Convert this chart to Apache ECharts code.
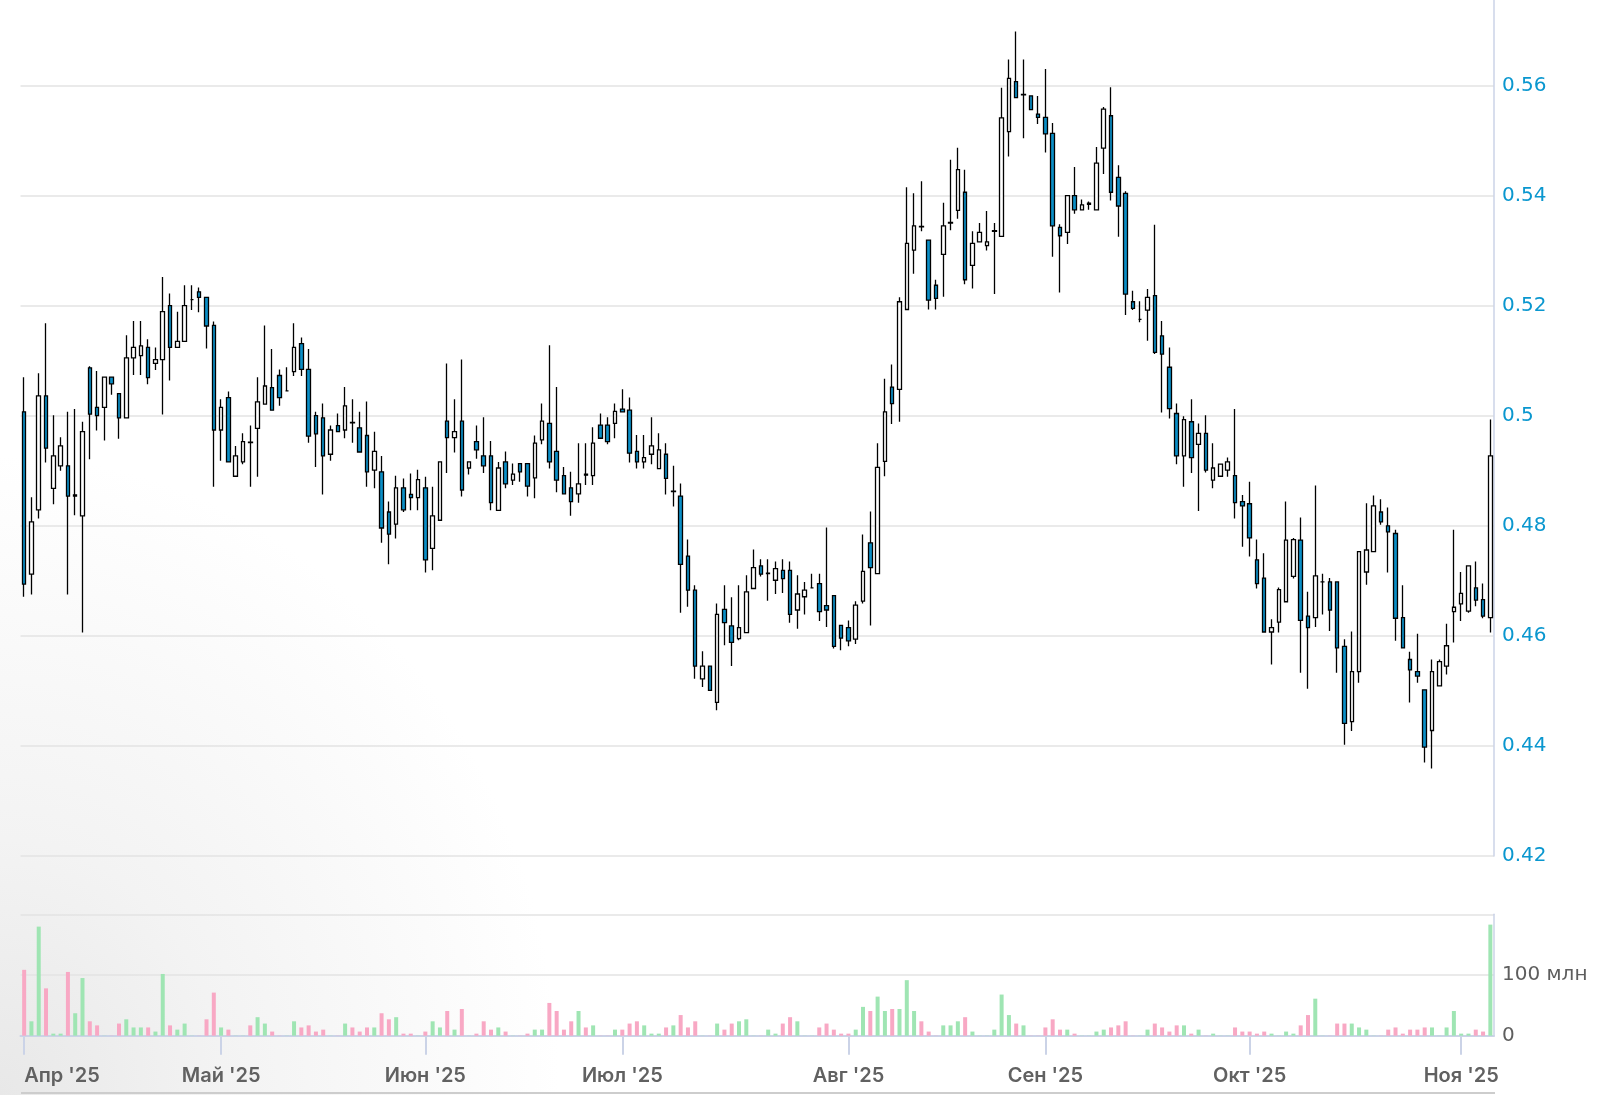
<!DOCTYPE html>
<html>
<head>
<meta charset="utf-8">
<script src="https://cdn.jsdelivr.net/npm/echarts@6/dist/echarts.min.js"></script>
<style>
  html, body { margin: 0; padding: 0; width: 1606px; height: 1095px; overflow: hidden;
    background: radial-gradient(ellipse 560px 640px at 0px 1095px, #e8e8e8 0%, #f3f3f3 40%, #ffffff 100%); }
  #chart { width: 1606px; height: 1095px; }
</style>
</head>
<body>
<div id="chart"></div>
<script>
// ---- Data ----
const monthStarts = [0, 27, 55, 82, 113, 140, 168, 197];
const monthLabels = ["Апр '25", "Май '25", "Июн '25", "Июл '25", "Авг '25", "Сен '25", "Окт '25", "Ноя '25"];
const priceTicks = [0.42, 0.44, 0.46, 0.48, 0.50, 0.52, 0.54, 0.56];
const volumeTicks = [0, 100];

const opens = [
0.5007,0.4712,0.4829,0.5036,0.4868,0.4909,0.4909,0.4854,0.4818,0.5087,
0.5015,0.5015,0.5070,0.5040,0.4996,0.5105,0.5109,0.5124,0.5095,0.5102,
0.5200,0.5124,0.5135,0.5211,0.5225,0.5215,0.5164,0.4974,0.5033,0.4890,
0.4916,0.4952,0.4977,0.5021,0.5051,0.5073,0.5045,0.5080,0.5131,0.5084,
0.5000,0.4996,0.4930,0.4982,0.4974,0.4988,0.4978,0.4964,0.4901,0.4898,
0.4825,0.4803,0.4869,0.4857,0.4851,0.4869,0.4759,0.4810,0.4990,0.4960,
0.4990,0.4905,0.4953,0.4927,0.4927,0.4828,0.4916,0.4883,0.4913,0.4913,
0.4887,0.4956,0.4986,0.4935,0.4891,0.4869,0.4858,0.4894,0.4891,0.4983,
0.4983,0.4986,0.5012,0.5010,0.4935,0.4916,0.4930,0.4904,0.4930,0.4862,
0.4854,0.4745,0.4683,0.4522,0.4545,0.4479,0.4648,0.4618,0.4595,0.4606,
0.4686,0.4727,0.4713,0.4701,0.4719,0.4719,0.4647,0.4671,0.4687,0.4695,
0.4655,0.4673,0.4619,0.4615,0.4594,0.4663,0.4769,0.4713,0.4917,0.5052,
0.5048,0.5193,0.5301,0.5344,0.5319,0.5237,0.5293,0.5350,0.5373,0.5406,
0.5273,0.5316,0.5309,0.5335,0.5326,0.5516,0.5607,0.5583,0.5581,0.5548,
0.5542,0.5513,0.5342,0.5333,0.5400,0.5374,0.5384,0.5374,0.5486,0.5545,
0.5433,0.5404,0.5207,0.5175,0.5192,0.5218,0.5145,0.5088,0.5004,0.4927,
0.4989,0.4948,0.4968,0.4883,0.4890,0.4901,0.4891,0.4844,0.4840,0.4738,
0.4705,0.4607,0.4625,0.4662,0.4708,0.4774,0.4636,0.4633,0.4698,0.4698,
0.4698,0.4581,0.4444,0.4535,0.4716,0.4753,0.4825,0.4800,0.4786,0.4633,
0.4557,0.4535,0.4502,0.4428,0.4509,0.4545,0.4644,0.4658,0.4645,0.4687,
0.4666,0.4633];
const closes = [
0.4694,0.4807,0.5036,0.4941,0.4927,0.4945,0.4854,0.4856,0.4971,0.5003,
0.5000,0.5070,0.5058,0.4996,0.5105,0.5124,0.5127,0.5069,0.5102,0.5189,
0.5124,0.5135,0.5200,0.5211,0.5215,0.5163,0.4974,0.5015,0.4916,0.4927,
0.4953,0.4951,0.5025,0.5054,0.5010,0.5033,0.5045,0.5124,0.5084,0.4963,
0.4967,0.4927,0.4974,0.4971,0.5018,0.4987,0.4934,0.4898,0.4935,0.4796,
0.4785,0.4869,0.4829,0.4851,0.4884,0.4738,0.4818,0.4916,0.4960,0.4971,
0.4865,0.4916,0.4938,0.4909,0.4842,0.4905,0.4876,0.4894,0.4898,0.4872,
0.4950,0.4990,0.4916,0.4883,0.4858,0.4844,0.4876,0.4892,0.4950,0.4959,
0.4953,0.5008,0.5007,0.4932,0.4916,0.4924,0.4945,0.4938,0.4886,0.4863,
0.4730,0.4683,0.4545,0.4545,0.4501,0.4639,0.4624,0.4588,0.4615,0.4680,
0.4724,0.4712,0.4714,0.4722,0.4704,0.4639,0.4676,0.4683,0.4687,0.4644,
0.4647,0.4581,0.4596,0.4591,0.4656,0.4717,0.4724,0.4906,0.5007,0.5022,
0.5207,0.5313,0.5345,0.5343,0.5210,0.5213,0.5345,0.5351,0.5447,0.5247,
0.5313,0.5333,0.5316,0.5336,0.5541,0.5613,0.5578,0.5584,0.5556,0.5542,
0.5512,0.5345,0.5327,0.5400,0.5374,0.5383,0.5386,0.5459,0.5557,0.5406,
0.5381,0.5221,0.5195,0.5175,0.5215,0.5115,0.5112,0.5013,0.4927,0.4993,
0.4924,0.4968,0.4901,0.4905,0.4912,0.4916,0.4842,0.4836,0.4778,0.4695,
0.4607,0.4615,0.4684,0.4774,0.4775,0.4628,0.4615,0.4709,0.4698,0.4647,
0.4578,0.4441,0.4535,0.4753,0.4756,0.4836,0.4807,0.4789,0.4632,0.4578,
0.4538,0.4527,0.4398,0.4535,0.4553,0.4582,0.4652,0.4677,0.4727,0.4665,
0.4636,0.4927];
const lows = [
0.4671,0.4675,0.4813,0.4915,0.4839,0.4900,0.4675,0.4819,0.4606,0.4921,
0.4973,0.4955,0.5038,0.4958,0.4996,0.5074,0.5074,0.5057,0.5083,0.5002,
0.5064,0.5124,0.5135,0.5192,0.5188,0.5122,0.4871,0.4918,0.4916,0.4890,
0.4912,0.4871,0.4889,0.5021,0.5010,0.5018,0.5045,0.5072,0.5072,0.4951,
0.4907,0.4857,0.4918,0.4971,0.4959,0.4951,0.4934,0.4871,0.4868,0.4769,
0.4730,0.4777,0.4825,0.4828,0.4828,0.4715,0.4719,0.4810,0.4896,0.4933,
0.4853,0.4893,0.4922,0.4896,0.4828,0.4828,0.4868,0.4874,0.4880,0.4853,
0.4850,0.4948,0.4904,0.4861,0.4858,0.4818,0.4842,0.4874,0.4874,0.4959,
0.4948,0.4959,0.5007,0.4915,0.4904,0.4904,0.4912,0.4904,0.4857,0.4835,
0.4642,0.4653,0.4522,0.4507,0.4501,0.4465,0.4583,0.4545,0.4592,0.4606,
0.4686,0.4708,0.4664,0.4676,0.4678,0.4624,0.4613,0.4639,0.4687,0.4627,
0.4616,0.4577,0.4574,0.4581,0.4585,0.4659,0.4619,0.4713,0.4890,0.4985,
0.4989,0.5193,0.5258,0.5335,0.5193,0.5193,0.5216,0.5337,0.5358,0.5239,
0.5231,0.5316,0.5300,0.5221,0.5326,0.5471,0.5578,0.5504,0.5556,0.5530,
0.5478,0.5289,0.5224,0.5312,0.5367,0.5374,0.5374,0.5374,0.5439,0.5391,
0.5325,0.5183,0.5192,0.5170,0.5136,0.5112,0.5006,0.4995,0.4912,0.4871,
0.4896,0.4827,0.4897,0.4868,0.4890,0.4889,0.4813,0.4762,0.4744,0.4686,
0.4607,0.4548,0.4606,0.4662,0.4704,0.4533,0.4504,0.4616,0.4639,0.4609,
0.4533,0.4402,0.4427,0.4515,0.4693,0.4753,0.4802,0.4715,0.4591,0.4578,
0.4479,0.4515,0.4370,0.4359,0.4509,0.4530,0.4588,0.4627,0.4642,0.4654,
0.4632,0.4606];
const highs = [
0.5070,0.4852,0.5077,0.5168,0.5001,0.4961,0.5007,0.5012,0.4989,0.5090,
0.5081,0.5070,0.5070,0.5040,0.5146,0.5172,0.5172,0.5139,0.5124,0.5252,
0.5222,0.5189,0.5237,0.5237,0.5233,0.5215,0.5171,0.5030,0.5044,0.4945,
0.4968,0.4982,0.5070,0.5164,0.5121,0.5084,0.5088,0.5168,0.5142,0.5121,
0.5007,0.5022,0.4982,0.5004,0.5052,0.5030,0.5007,0.5026,0.4971,0.4927,
0.4844,0.4891,0.4886,0.4895,0.4902,0.4889,0.4871,0.4916,0.5095,0.5030,
0.5102,0.4916,0.4982,0.4997,0.4954,0.4916,0.4935,0.4913,0.4913,0.4913,
0.4964,0.5022,0.5128,0.5052,0.4907,0.4898,0.4950,0.4950,0.4979,0.5004,
0.4997,0.5022,0.5048,0.5033,0.4965,0.4965,0.4997,0.4968,0.4950,0.4909,
0.4877,0.4775,0.4692,0.4572,0.4545,0.4659,0.4692,0.4670,0.4692,0.4710,
0.4757,0.4739,0.4739,0.4735,0.4739,0.4735,0.4710,0.4698,0.4713,0.4713,
0.4797,0.4673,0.4619,0.4628,0.4663,0.4784,0.4826,0.4950,0.5067,0.5093,
0.5215,0.5415,0.5404,0.5426,0.5319,0.5247,0.5387,0.5465,0.5487,0.5447,
0.5335,0.5350,0.5372,0.5350,0.5596,0.5647,0.5698,0.5647,0.5581,0.5581,
0.5630,0.5532,0.5348,0.5400,0.5452,0.5393,0.5389,0.5488,0.5561,0.5597,
0.5455,0.5408,0.5227,0.5208,0.5230,0.5347,0.5172,0.5124,0.5022,0.4999,
0.5030,0.4986,0.5001,0.4950,0.4912,0.4924,0.5012,0.4856,0.4880,0.4775,
0.4750,0.4630,0.4688,0.4844,0.4778,0.4815,0.4680,0.4873,0.4713,0.4705,
0.4698,0.4594,0.4608,0.4753,0.4841,0.4855,0.4848,0.4833,0.4793,0.4692,
0.4571,0.4604,0.4502,0.4557,0.4557,0.4622,0.4793,0.4716,0.4727,0.4735,
0.4695,0.4993];
// volume, millions
const volumes = [
108.5,23.7,179.7,78,3.4,3.4,105,37,95,23.7,
17,0.3,0.3,20,27,13.6,13.6,13.6,6.8,101.7,
17,10,20,0.3,0.3,27,71,13.6,10,0.3,
0.3,17,30.5,20,6.8,0.3,0.3,23.7,13.6,17,
6.8,10,0.3,0.3,20,13.6,6.8,13.6,13.6,37,
27,30.5,3.4,3.4,0.3,6.8,23.7,13.6,40.7,10,
44,0.3,3.4,23.7,10,13.6,6.8,0.3,0.3,3.4,
10,10,54,40.7,10,23.7,40.7,13.6,17,0.3,
0.3,10,10,20,23.7,17,3.4,3.4,13.6,17,
34,13.6,23.7,0.3,0.3,20,10,20,23.7,27,
0.3,0.3,10,3.4,20,30.5,23.7,0.3,0.3,13.6,
20,10,3.4,3.4,10,47.5,40.7,64.4,40.7,44,
44,91.5,40.7,23.7,6.8,0.3,17,17,23.7,30.5,
6.8,0.3,0.3,10,67.8,34,20,17,0.3,0.3,
13.6,27,10,10,3.4,0.3,0.3,6.8,10,13.6,
17,23.7,0.3,0.3,10,20,13.6,6.8,17,17,
3.4,10,0.3,3.4,0.3,0.3,13.6,6.8,6.8,3.4,
6.8,3.4,0.3,6.8,3.4,17,34,61,0.3,0.3,
20,20,20,13.6,10,0.3,0.3,10,13.6,3.4,
10,10,13.6,13.6,0.3,13.6,40.7,3.4,3.4,10,
6.8,183];

// ---- Build series data from arrays ----
const categories = opens.map((_, i) => String(i));
const candleData = opens.map((o, i) => [o, closes[i], lows[i], highs[i]]);
const UP_VOL = '#9fe5b3', DOWN_VOL = '#f8a8c4';
const volumeData = volumes.map((v, i) => ({
  value: v,
  itemStyle: { color: closes[i] >= opens[i] ? UP_VOL : DOWN_VOL }
}));
const isMonthStart = (idx) => monthStarts.indexOf(idx) !== -1;

const AXIS_LINE = '#cbd3e7';
const SPLIT = '#e3e3e3';

const chart = echarts.init(document.getElementById('chart'), null, { renderer: 'canvas' });
chart.setOption({
  animation: false,
  backgroundColor: 'transparent',
  grid: [
    { left: 20.5, right: 112, top: -24.6, bottom: 239, outerBoundsMode: 'none', containLabel: false },
    { left: 20.5, right: 112, top: 914.3, bottom: 59.3, outerBoundsMode: 'none', containLabel: false }
  ],
  xAxis: [
    { type: 'category', gridIndex: 0, data: categories, boundaryGap: true, show: false },
    {
      type: 'category', gridIndex: 1, data: categories, boundaryGap: true, offset: 10,
      axisLine: { show: true, lineStyle: { color: AXIS_LINE, width: 2 } },
      axisTick: { show: true, alignWithLabel: true, length: 19, interval: (i) => isMonthStart(i),
        lineStyle: { color: AXIS_LINE, width: 2 } },
      axisLabel: {
        interval: (i) => isMonthStart(i),
        formatter: (v, i) => monthLabels[monthStarts.indexOf(i)] || '',
        margin: 20, fontSize: 20, color: '#616161', fontFamily: 'Inter', fontWeight: 600,
        alignMinLabel: 'left',
        hideOverlap: false
      },
      splitLine: { show: false }
    }
  ],
  yAxis: [
    {
      type: 'value', gridIndex: 0, position: 'right', min: 0.42, max: 0.58, interval: 0.02,
      axisLine: { show: true, lineStyle: { color: AXIS_LINE, width: 1.5 } },
      axisTick: { show: false },
      axisLabel: {
        margin: 8, fontSize: 20, color: '#0a97cf', fontFamily: 'DejaVu Sans',
        formatter: (v) => priceTicks.some(t => Math.abs(t - v) < 1e-6) ? String(+v.toFixed(2)) : ''
      },
      splitLine: { show: true, lineStyle: { color: SPLIT, width: 1.5 } }
    },
    {
      type: 'value', gridIndex: 1, position: 'right', min: 0, max: 200, interval: 100,
      axisLine: { show: true, lineStyle: { color: AXIS_LINE, width: 1.5 } },
      axisTick: { show: false },
      axisLabel: {
        margin: 8, fontSize: 20, color: '#5e5e5e', fontFamily: 'DejaVu Sans',
        formatter: (v) => volumeTicks.indexOf(v) === -1 ? '' : (v === 0 ? '0' : v + ' млн')
      },
      splitLine: { show: true, lineStyle: { color: SPLIT, width: 1.5 } }
    }
  ],
  series: [
    {
      type: 'candlestick', xAxisIndex: 0, yAxisIndex: 0, data: candleData,
      barWidth: 4,
      itemStyle: { color: '#ffffff', color0: '#0b8fc7', borderColor: '#000000', borderColor0: '#000000', borderWidth: 1.3 }
    },
    {
      type: 'bar', xAxisIndex: 1, yAxisIndex: 1, data: volumeData, barWidth: 4
    }
  ],
  graphic: [
    { type: 'line', shape: { x1: 21, y1: 1093, x2: 1495, y2: 1093 }, style: { stroke: '#cdcdcd', lineWidth: 2 }, silent: true }
  ]
});
</script>
</body>
</html>
